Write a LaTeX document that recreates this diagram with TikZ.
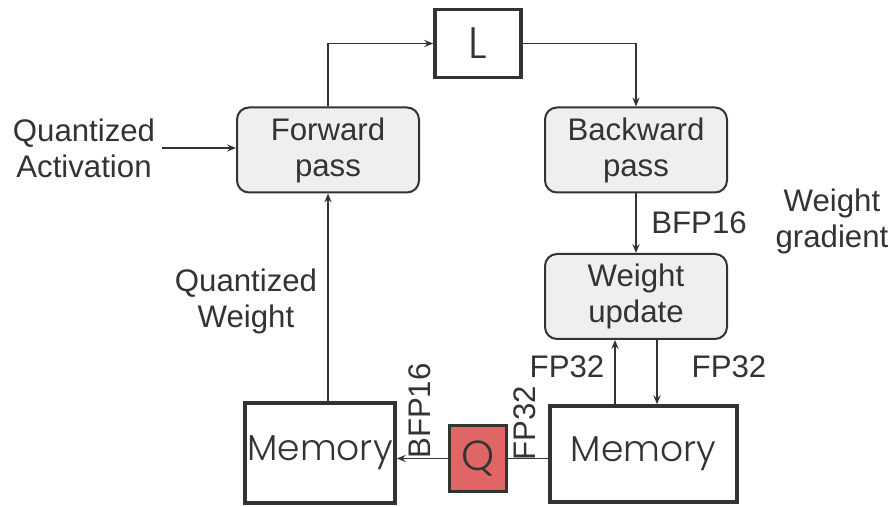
\documentclass[tikz,border=0pt]{standalone}
\usepackage{fontspec}
\setmainfont{Liberation Sans}
\newfontfamily\geofont{Poppins}[UprightFont=* Light]
\usetikzlibrary{arrows.meta}

\definecolor{inkgray}{HTML}{333333}
\definecolor{boxgray}{HTML}{EFEFEF}
\definecolor{qred}{HTML}{E06666}

\tikzset{
    lbl/.style={font=\fontsize{15.6}{18}\selectfont, text=inkgray, align=center},
    passbox/.style={draw=inkgray, line width=1pt, rounded corners=6pt, fill=boxgray,
        minimum width=91pt, minimum height=42.5pt, lbl},
    membox/.style={draw=inkgray, line width=1.8pt, fill=white, inner sep=0pt,
        font=\geofont\fontsize{18}{20}\selectfont, text=inkgray},
    flow/.style={draw=inkgray, line width=0.7pt, -{Stealth[length=4.5pt, width=3.6pt, inset=1.6pt]}},
}

\begin{document}
\begin{tikzpicture}[x=0.5pt, y=-0.5pt]
    \useasboundingbox (0,0) rectangle (891,507);

    % Loss and the two passes
    \node[membox, minimum width=43pt, minimum height=34pt, font=\geofont\fontsize{22}{24}\selectfont] (loss) at (478, 43.5) {\raisebox{-1pt}{L}};
    \node[passbox] (fwd) at (328, 150) {Forward\\pass};
    \node[passbox] (bwd) at (636, 150) {Backward\\pass};
    \node[passbox] (upd) at (636, 296.5) {Weight\\update};
    \node[lbl] (act) at (84, 148) {Quantized\\Activation};

    \draw[flow] (fwd.north) |- (loss.west);
    \draw[flow] (loss.east) -| (bwd.north);
    \draw[flow] (act.east) -- (act.east -| fwd.west);
    \draw[flow] (bwd.south) -- (upd.north) node[lbl, midway, right=4pt] (bfpg) {BFP16};
    \node[lbl] (grad) at (832, 221) {Weight\\gradient};

    % Memories and quantizer
    \node[membox, minimum width=75pt, minimum height=50pt] (meml) at (320, 453) {\raisebox{-2pt}{Memory}};
    \node[membox, minimum width=93.5pt, minimum height=48pt] (memr) at (643.5, 454) {\raisebox{-2pt}{Memory}};
    \node[membox, fill=qred, minimum width=28.5pt, minimum height=33pt, font=\geofont\fontsize{21}{23}\selectfont] (quant) at (478, 458.5) {Q};

    \draw[flow] ([xshift=-10.5pt]upd.south |- memr.north) -- ([xshift=-10.5pt]upd.south);
    \draw[flow] ([xshift=10.5pt]upd.south) -- ([xshift=10.5pt]upd.south |- memr.north);
    \node[lbl] (fpup) at (567, 367) {FP32};
    \node[lbl] (fpdown) at (729, 367) {FP32};

    \draw[draw=inkgray, line width=0.7pt] (quant.east) -- (quant.east -| memr.west);
    \draw[flow] (quant.west) -- (quant.west -| meml.east);
    \node[lbl, rotate=90] (bfpq) at (420, 411) {BFP16};
    \node[lbl, rotate=90] (fpq) at (525, 423) {FP32};

    \draw[flow] (fwd.south |- meml.north) -- (fwd.south);
    \node[lbl] (qw) at (246, 301) {Quantized\\Weight};
\end{tikzpicture}
\end{document}
